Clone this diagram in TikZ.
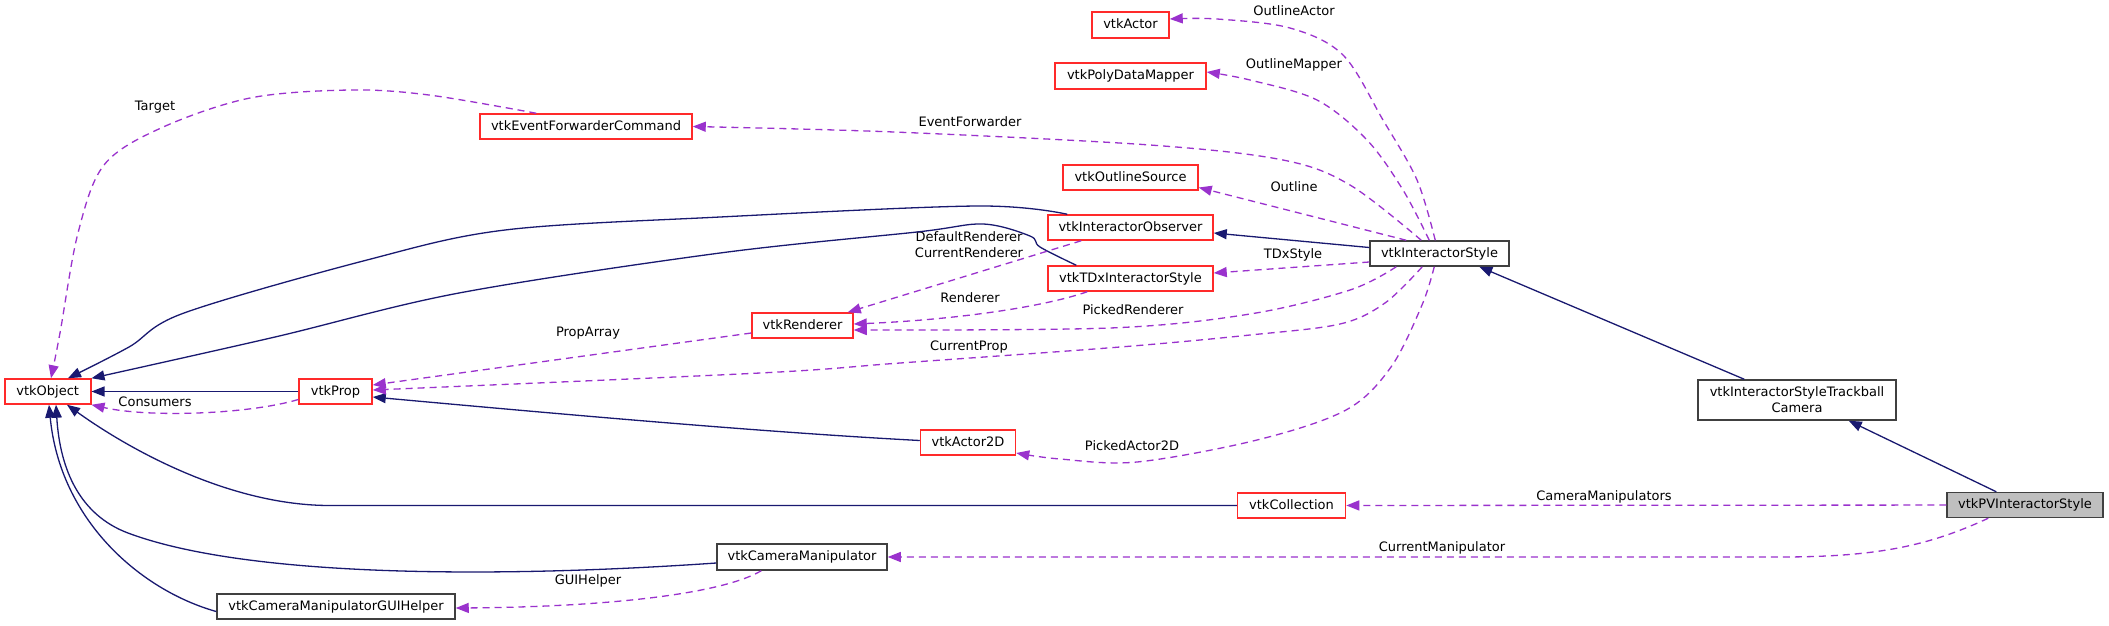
\documentclass[tikz,border=0pt]{standalone}
\usepackage{fontspec}
\setmainfont{DejaVu Sans}
\usetikzlibrary{arrows.meta,calc}
\definecolor{navy}{HTML}{191970}
\definecolor{orchid}{HTML}{9A32CD}
\definecolor{boxred}{HTML}{FF2A2A}
\definecolor{boxgray}{HTML}{404040}
\definecolor{basefill}{HTML}{BFBFBF}
\newcommand{\nfont}{\fontsize{13}{16}\selectfont}
\tikzset{
  cls/.style={draw=boxgray, line width=1.5pt, fill=white, inner sep=0pt,
    minimum height=25pt, font=\nfont, text=black, text height=9.5pt, text depth=2.5pt},
  redcls/.style={cls, draw=boxred},
  lbl/.style={font=\nfont, inner sep=0pt, text=black, text height=9.5pt, text depth=2.5pt},
  inh/.style={draw=navy, line width=1.3pt, -{Triangle[length=13pt,width=10pt]}},
  use/.style={draw=orchid, line width=1.3pt, dash pattern=on 7pt off 5pt,
    -{Triangle[length=13pt,width=10pt]}},
}
\begin{document}
\begin{tikzpicture}[x=1pt,y=-1pt]
\useasboundingbox (0,0) rectangle (2109,625);
\fill[white] (0,0) rectangle (2109,625);

% nodes
\node[redcls, minimum width=86] (obj) at (47.75,391.5) {vtkObject};
\node[redcls, minimum width=73] (prop) at (335.5,391.5) {vtkProp};
\node[redcls, minimum width=212] (efc) at (586,126.5) {vtkEventForwarderCommand};
\node[redcls, minimum width=77, minimum height=26] (actor) at (1130.5,25) {vtkActor};
\node[redcls, minimum width=151, minimum height=26] (pdm) at (1130.5,76) {vtkPolyDataMapper};
\node[redcls, minimum width=135] (os) at (1130.5,177.5) {vtkOutlineSource};
\node[redcls, minimum width=165] (iobs) at (1130.5,227.5) {vtkInteractorObserver};
\node[redcls, minimum width=165] (tdx) at (1130.5,278.5) {vtkTDxInteractorStyle};
\node[redcls, minimum width=101] (ren) at (802.5,325.5) {vtkRenderer};
\node[cls, minimum width=139] (is) at (1439.5,253.5) {vtkInteractorStyle};
\node[cls, minimum width=198, minimum height=40, align=center, text height=, text depth=] (tbc) at (1797,400) {vtkInteractorStyleTrackball\\Camera};
\node[cls, minimum width=156, fill=basefill] (pv) at (2025,505) {vtkPVInteractorStyle};
\node[redcls, minimum width=95] (a2d) at (968,442.5) {vtkActor2D};
\node[redcls, minimum width=108] (coll) at (1291.5,505.5) {vtkCollection};
\node[cls, minimum width=170, minimum height=26] (cm) at (802,557) {vtkCameraManipulator};
\node[cls, minimum width=238] (gui) at (336,606.5) {vtkCameraManipulatorGUIHelper};

% labels
\node[lbl] (lTarget) at (155,107) {Target};
\node[lbl] (lCons) at (155,403) {Consumers};
\node[lbl] (lPropArray) at (588,333) {PropArray};
\node[lbl] (lEF) at (970,123) {EventForwarder};
\node[lbl] (lOA) at (1294,12) {OutlineActor};
\node[lbl] (lOM) at (1294,65) {OutlineMapper};
\node[lbl] (lO) at (1294,188) {Outline};
\node[font=\nfont, inner sep=0pt, align=center, text=black] (lDR) at (969,245) {\fontsize{13}{14}\selectfont DefaultRenderer\\CurrentRenderer};
\node[lbl] (lTDx) at (1293,255) {TDxStyle};
\node[lbl] (lRen) at (970,299) {Renderer};
\node[lbl] (lPR) at (1133,311) {PickedRenderer};
\node[lbl] (lCP) at (969,347) {CurrentProp};
\node[lbl] (lPA) at (1132,447) {PickedActor2D};
\node[lbl] (lCMs) at (1604,497) {CameraManipulators};
\node[lbl] (lCM) at (1442,548) {CurrentManipulator};
\node[lbl] (lGUI) at (588,581) {GUIHelper};

% inheritance edges
\draw[inh] (prop) -- (obj);
\draw[inh] plot[smooth,tension=0.55] coordinates {($(iobs.north west)+(20,0)$) (977,206) (720,217) (505,230) (367,260) (184,313) (129,347) ($(obj.north west)+(64,0)$)};
\draw[inh] plot[smooth,tension=0.55] coordinates {($(tdx.north west)+(29,0)$) (1040,247) (1030,236) (983,224) (917,232) (720,253) (459,293) (275,337) (obj.north east)};
\draw[inh] ($(a2d.west)+(0,-2)$) .. controls (760,432) and (560,414) .. ($(prop.east)+(0,5.5)$);
\draw[inh] (coll.west) -- (330,505.5) .. controls (230,505.5) and (130,450) .. ($(obj.south west)+(63,0)$);
\draw[inh] ($(cm.west)+(0,6)$) .. controls (500,578) and (248,578) .. (128,533) .. controls (80,515) and (60,470) .. ($(obj.south west)+(52,0)$);
\draw[inh] ($(gui.west)+(0,5)$) .. controls (140,590) and (60,520) .. ($(obj.south west)+(45,0)$);
\draw[inh] ($(is.west)+(0,-6)$) -- ($(iobs.east)+(0,5.5)$);
\draw[inh] ($(tbc.north west)+(47,0)$) -- ($(is.south west)+(110,0)$);
\draw[inh] ($(pv.north west)+(50,0)$) -- ($(tbc.south west)+(151.5,0)$);

% usage edges
\draw[use] plot[smooth,tension=0.55] coordinates {($(efc.north west)+(57,0)$) (429,95) (350,90) (250,98) (161,128) (104,165) (78,233) (60,333) ($(obj.north west)+(47,0)$)};
\draw[use] ($(prop.west)+(0,8)$) .. controls (250,414) and (150,418) .. (obj.south east);
\draw[use] ($(ren.west)+(0,7.5)$) -- ($(prop.east)+(0,-6.5)$);
\draw[use] plot[smooth,tension=0.55] coordinates {($(is.south west)+(53,0)$) (1385,303) (1340,324) (1250,335) (1120,347) (900,363) (760,373) ($(prop.east)+(0,-1.5)$)};
\draw[use] plot[smooth,tension=0.55] coordinates {($(is.south west)+(27,0)$) (1350,290) (1250,314) (1110,328) ($(ren.east)+(0,4.5)$)};
\draw[use] ($(iobs.south west)+(34,0)$) -- ($(ren.north east)+(-6,0)$);
\draw[use] ($(tdx.south west)+(40,0)$) .. controls (1040,308) and (950,320) .. ($(ren.east)+(0,-1.5)$);
\draw[use] plot[smooth,tension=0.55] coordinates {($(is.north west)+(66,0)$) (1417,180) (1383,120) (1343,55) (1290,28) (1217,19) ($(actor.east)+(0,-6)$)};
\draw[use] plot[smooth,tension=0.55] coordinates {($(is.north west)+(60,0)$) (1403,190) (1367,140) (1317,100) (1250,80) ($(pdm.east)+(0,-4)$)};
\draw[use] plot[smooth,tension=0.55] coordinates {($(is.north west)+(52,0)$) (1350,185) (1283,160) (1150,145) (894,132) (efc.east)};
\draw[use] ($(is.north west)+(37,0)$) -- ($(os.east)+(0,10)$);
\draw[use] ($(is.west)+(0,8.5)$) -- ($(tdx.east)+(0,-5.5)$);
\draw[use] plot[smooth,tension=0.55] coordinates {($(is.south west)+(65,0)$) (1422,305) (1391,367) (1346,410) (1257,440) (1137,462) (1060,459) ($(a2d.east)+(0,10.5)$)};
\draw[use] (pv) -- (coll);
\draw[use] ($(pv.south west)+(42,0)$) .. controls (1930,545) and (1880,557) .. (1780,557) -- (cm.east);
\draw[use] ($(cm.south west)+(45,0)$) .. controls (720,595) and (600,607) .. ($(gui.east)+(0,1.5)$);
\end{tikzpicture}
\end{document}
